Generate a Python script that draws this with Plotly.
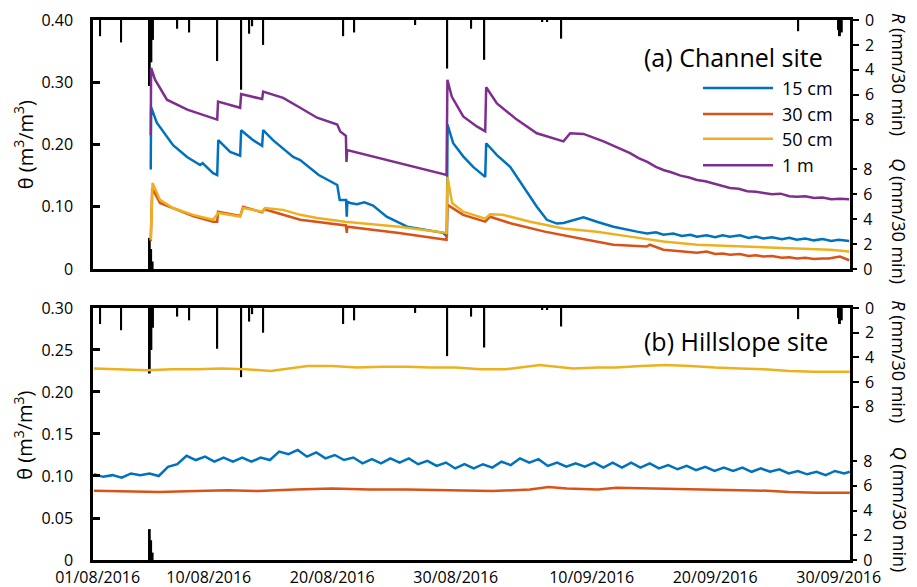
import pandas as pd
import plotly.graph_objects as go

START = pd.Timestamp("2016-08-01")


def to_dt(days):
    return [START + pd.Timedelta(days=d) for d in days]


# ---------------- data (days since 01/08/2016 00:00) ----------------
rain_days = [0.20, 1.90, 4.22, 4.35, 4.48, 6.44, 7.41, 9.68, 11.62, 12.27, 12.51, 13.40,
             19.88, 20.77, 25.71, 28.30, 30.24, 31.30, 36.00, 36.40, 37.53, 56.72,
             59.95, 60.10, 60.25]
rain_mm = [1.3, 1.8, 5.3, 3.4, 1.6, 0.7, 1.0, 3.3, 5.6, 1.1, 0.5, 2.0,
           1.3, 1.0, 0.4, 3.9, 0.7, 3.2, 0.15, 0.1, 1.5, 0.9,
           0.8, 1.3, 1.0]
q_days = [4.22, 4.33, 4.45]
q_mm = [2.5, 1.6, 0.6]

# Channel site
ch15_days = [4.30, 4.33, 4.79, 6.11, 7.24, 8.30, 8.50, 9.35, 9.68, 9.77, 10.73, 11.54, 11.62,
             12.59, 13.32, 13.40, 14.20, 15.83, 16.40, 17.90, 19.40, 19.60, 20.12, 20.17,
             20.22, 20.45, 21.00, 21.60, 22.30, 23.40, 25.06, 26.68, 27.98, 28.28, 28.33,
             28.79, 29.60, 30.40, 31.38, 31.46, 32.33, 33.40, 34.50, 35.56, 36.37, 37.18,
             37.72, 39.34, 40.42, 41.76, 43.66, 44.50, 45.20, 45.81, 46.60, 47.30, 48.00,
             48.52, 49.30, 50.00, 50.60, 51.20, 52.00, 52.70, 53.30, 53.90, 54.60, 55.40,
             56.00, 56.60, 57.30, 58.00, 58.70, 59.40, 60.00, 60.85]
ch15 = [0.160, 0.260, 0.235, 0.199, 0.180, 0.167, 0.170, 0.154, 0.151, 0.207, 0.188, 0.182, 0.223,
        0.207, 0.198, 0.223, 0.207, 0.180, 0.175, 0.151, 0.135, 0.111, 0.111, 0.084,
        0.108, 0.106, 0.104, 0.107, 0.102, 0.084, 0.068, 0.063, 0.058, 0.052, 0.232,
        0.202, 0.181, 0.164, 0.148, 0.202, 0.183, 0.164, 0.132, 0.100, 0.079, 0.073,
        0.074, 0.083, 0.076, 0.068, 0.060, 0.057, 0.059, 0.055, 0.057, 0.053, 0.055,
        0.052, 0.054, 0.051, 0.054, 0.052, 0.054, 0.050, 0.052, 0.049, 0.051, 0.048,
        0.050, 0.047, 0.049, 0.046, 0.048, 0.045, 0.047, 0.045]

ch30_days = [4.30, 4.42, 5.05, 7.73, 9.35, 9.68, 9.75, 11.54, 11.78, 13.32, 13.50, 16.40,
             20.10, 20.17, 20.22, 24.40, 27.50, 28.25, 28.33, 29.60, 31.38, 31.78, 33.50,
             36.20, 39.07, 41.76, 44.46, 44.70, 45.81, 48.52, 49.30, 50.00, 50.60, 51.20,
             52.00, 52.70, 53.30, 53.90, 54.60, 55.40, 56.00, 56.60, 57.30, 58.00, 58.70,
             59.20, 60.10, 60.85]
ch30 = [0.045, 0.130, 0.106, 0.085, 0.076, 0.076, 0.092, 0.085, 0.100, 0.091, 0.096, 0.079,
        0.070, 0.058, 0.068, 0.058, 0.049, 0.047, 0.103, 0.087, 0.076, 0.084, 0.073,
        0.060, 0.049, 0.039, 0.036, 0.039, 0.031, 0.026, 0.028, 0.024, 0.025, 0.023,
        0.024, 0.021, 0.022, 0.020, 0.021, 0.018, 0.019, 0.017, 0.018, 0.016, 0.017,
        0.017, 0.020, 0.014]

ch50_days = [4.30, 4.45, 5.05, 6.11, 7.73, 9.35, 9.77, 11.54, 11.78, 13.32, 13.56, 15.02,
             16.40, 17.77, 20.04, 24.40, 28.25, 28.33, 28.70, 29.60, 31.38, 31.78, 32.80,
             35.02, 37.72, 40.42, 43.11, 45.81, 48.52, 51.20, 53.90, 56.60, 59.30, 60.85]
ch50 = [0.047, 0.138, 0.111, 0.098, 0.087, 0.079, 0.090, 0.084, 0.098, 0.092, 0.098, 0.095,
        0.087, 0.082, 0.076, 0.068, 0.058, 0.148, 0.106, 0.092, 0.081, 0.088, 0.087,
        0.076, 0.065, 0.060, 0.052, 0.044, 0.039, 0.037, 0.035, 0.033, 0.031, 0.028]

ch1m_days = [4.30, 4.33, 4.65, 5.30, 5.61, 7.26, 8.87, 9.68, 9.75, 11.54, 11.62, 12.59, 13.32,
             13.40, 15.02, 16.40, 17.77, 19.40, 19.64, 20.10, 20.15, 20.20, 21.82, 24.40,
             27.10, 28.25, 28.32, 28.67, 29.60, 30.70, 31.38, 31.46, 32.33, 33.94, 35.56,
             37.72, 38.26, 39.34, 40.96, 43.11, 43.80, 44.50, 45.20, 45.81, 46.50, 47.20,
             47.90, 48.52, 49.20, 49.90, 50.50, 51.20, 51.90, 52.60, 53.30, 53.90, 54.60,
             55.30, 56.00, 56.60, 57.30, 58.00, 58.70, 59.40, 60.10, 60.85]
ch1m = [0.215, 0.323, 0.304, 0.283, 0.272, 0.256, 0.245, 0.240, 0.269, 0.259, 0.281, 0.277, 0.273,
        0.285, 0.275, 0.259, 0.243, 0.232, 0.221, 0.214, 0.172, 0.191, 0.183, 0.170,
        0.156, 0.151, 0.304, 0.277, 0.245, 0.229, 0.221, 0.292, 0.266, 0.240, 0.218,
        0.205, 0.218, 0.217, 0.205, 0.186, 0.178, 0.172, 0.164, 0.159, 0.155, 0.150,
        0.147, 0.143, 0.141, 0.137, 0.134, 0.130, 0.129, 0.125, 0.124, 0.122, 0.120,
        0.121, 0.117, 0.116, 0.117, 0.114, 0.115, 0.112, 0.113, 0.112]

# Hillslope site
hs15_days = [-0.30, 0.45, 1.20, 1.95, 2.70, 3.45, 4.20, 4.95, 5.70, 6.45, 7.20, 7.95, 8.70,
             9.45, 10.20, 10.95, 11.70, 12.45, 13.20, 13.95, 14.70, 15.45, 16.20, 16.95,
             17.70, 18.45, 19.20, 19.95, 20.70, 21.45, 22.20, 22.95, 23.70, 24.45, 25.20,
             25.95, 26.70, 27.45, 28.20, 28.95, 29.70, 30.45, 31.20, 31.95, 32.70, 33.45,
             34.20, 34.95, 35.70, 36.45, 37.20, 37.95, 38.70, 39.45, 40.20, 40.95, 41.70,
             42.45, 43.20, 43.95, 44.70, 45.45, 46.20, 46.95, 47.70, 48.45, 49.20, 49.95,
             50.70, 51.45, 52.20, 52.95, 53.70, 54.45, 55.20, 55.95, 56.70, 57.45, 58.20,
             58.95, 59.70, 60.45, 60.90]
hs15 = [0.102, 0.099, 0.101, 0.098, 0.103, 0.101, 0.103, 0.100, 0.111, 0.114, 0.124, 0.119, 0.123,
        0.117, 0.122, 0.117, 0.122, 0.117, 0.122, 0.119, 0.129, 0.126, 0.131, 0.123,
        0.128, 0.121, 0.125, 0.119, 0.122, 0.115, 0.120, 0.115, 0.121, 0.116, 0.121,
        0.114, 0.118, 0.112, 0.116, 0.109, 0.114, 0.109, 0.114, 0.110, 0.117, 0.113,
        0.121, 0.116, 0.120, 0.112, 0.116, 0.111, 0.115, 0.111, 0.116, 0.110, 0.116,
        0.110, 0.116, 0.110, 0.115, 0.109, 0.113, 0.108, 0.112, 0.107, 0.111, 0.106,
        0.110, 0.106, 0.110, 0.105, 0.109, 0.105, 0.108, 0.103, 0.106, 0.102, 0.105,
        0.101, 0.106, 0.103, 0.105]

hs30_days = [-0.30, 3.0, 5.0, 8.0, 10.5, 13.0, 16.0, 19.0, 22.0, 25.0, 28.0, 30.0, 32.0,
             35.0, 36.5, 38.0, 40.5, 42.0, 45.0, 48.8, 51.0, 54.2, 56.0, 58.3, 60.9]
hs30 = [0.0825, 0.082, 0.081, 0.082, 0.083, 0.082, 0.084, 0.085, 0.084, 0.084, 0.083, 0.083, 0.082,
        0.084, 0.087, 0.085, 0.084, 0.086, 0.085, 0.084, 0.083, 0.0825, 0.081, 0.080, 0.080]

hs50_days = [-0.30, 2.0, 4.0, 6.0, 8.0, 10.0, 12.0, 14.0, 15.5, 17.0, 19.0, 21.0, 23.0, 25.0,
             27.0, 29.0, 31.0, 33.0, 35.8, 38.5, 40.5, 42.0, 44.0, 46.0, 48.0, 50.0, 52.0,
             54.0, 56.0, 58.0, 60.9]
hs50 = [0.228, 0.227, 0.226, 0.227, 0.227, 0.228, 0.227, 0.225, 0.228, 0.231, 0.231, 0.229, 0.230,
        0.230, 0.229, 0.229, 0.227, 0.227, 0.232, 0.228, 0.229, 0.229, 0.231, 0.232, 0.231,
        0.229, 0.228, 0.227, 0.225, 0.224, 0.224]

depth_names = ["15 cm", "30 cm", "50 cm", "1 m"]
colors = ["#0072BD", "#D95319", "#EDB120", "#7E2F8E"]

theta_top_ticks = [0, 0.1, 0.2, 0.3, 0.4]
theta_top_text = ["0", "0.10", "0.20", "0.30", "0.40"]
theta_bot_ticks = [0, 0.05, 0.1, 0.15, 0.2, 0.25, 0.3]
theta_bot_text = ["0", "0.05", "0.10", "0.15", "0.20", "0.25", "0.30"]
rq_ticks = [0, 2, 4, 6, 8]
date_ticks = ["2016-08-01", "2016-08-10", "2016-08-20", "2016-08-30",
              "2016-09-10", "2016-09-20", "2016-09-30"]
date_text = ["01/08/2016", "10/08/2016", "20/08/2016", "30/08/2016",
             "10/09/2016", "20/09/2016", "30/09/2016"]

# ---------------- figure ----------------
FONT = "Open Sans"
BAR_W = 0.16 * 86400000
fig = go.Figure()

panels = [
    ("x", "y", "y2", "y3",
     [(ch15_days, ch15), (ch30_days, ch30), (ch50_days, ch50), (ch1m_days, ch1m)]),
    ("x2", "y4", "y5", "y6",
     [(hs15_days, hs15), (hs30_days, hs30), (hs50_days, hs50)]),
]
for xa, ya_r, ya_q, ya_t, series in panels:
    fig.add_trace(go.Bar(x=to_dt(rain_days), y=rain_mm, width=BAR_W,
                         marker=dict(color="black", line=dict(width=0)),
                         xaxis=xa, yaxis=ya_r, showlegend=False, hoverinfo="skip"))
    fig.add_trace(go.Bar(x=to_dt(q_days), y=q_mm, width=BAR_W,
                         marker=dict(color="black", line=dict(width=0)),
                         xaxis=xa, yaxis=ya_q, showlegend=False, hoverinfo="skip"))
    for i, (d, v) in enumerate(series):
        fig.add_trace(go.Scatter(x=to_dt(d), y=v, mode="lines", name=depth_names[i],
                                 line=dict(color=colors[i], width=2.5),
                                 xaxis=xa, yaxis=ya_t, showlegend=False))

x_range = ["2016-07-31 15:00", "2016-09-30 22:00"]
TOP_DOM = [0.5389, 1.0]
BOT_DOM = [0.0, 0.4667]
LW = 2.5

common_x = dict(range=x_range, showgrid=False, zeroline=False, showline=True,
                linecolor="black", linewidth=LW, mirror=True, ticks="", ticklen=0,
                tickvals=date_ticks, ticktext=date_text, automargin=False,
                tickfont=dict(family=FONT, size=16, color="black"))
right_ax = dict(side="right", showgrid=False, zeroline=False, tickvals=rq_ticks,
                ticks="outside", ticklen=6, tickwidth=2, tickcolor="black", automargin=False,
                tickfont=dict(family=FONT, size=16, color="black"), ticklabelstandoff=3)
left_ax = dict(side="left", showgrid=False, zeroline=False, showline=True,
               linecolor="black", linewidth=LW, ticks="inside", ticklen=7,
               tickwidth=2.5, tickcolor="black", automargin=False,
               tickfont=dict(family=FONT, size=16, color="black"), ticklabelstandoff=14)

# The page body has an 8 px margin, so the figure is sized 8 px smaller in each
# direction to keep the plot area where the reference has it.
fig.update_layout(
    width=909, height=579,
    margin=dict(l=85, r=67, t=12, b=27, autoexpand=False),
    paper_bgcolor="white", plot_bgcolor="white",
    barmode="overlay", showlegend=False,
    font=dict(family=FONT, color="black"),
    xaxis=dict(domain=[0, 1], anchor="y", showticklabels=False, **common_x),
    xaxis2=dict(domain=[0, 1], anchor="y4", showticklabels=True, ticklabelstandoff=1, **common_x),
    yaxis=dict(domain=TOP_DOM, anchor="x", range=[20, 0], showline=True,
               linecolor="black", linewidth=LW, **right_ax),
    yaxis2=dict(overlaying="y", anchor="x", range=[0, 20], showline=False, **right_ax),
    yaxis3=dict(overlaying="y", anchor="x", range=[0, 0.4],
                tickvals=theta_top_ticks, ticktext=theta_top_text, **left_ax),
    yaxis4=dict(domain=BOT_DOM, anchor="x2", range=[20.4, 0], showline=True,
                linecolor="black", linewidth=LW, **right_ax),
    yaxis5=dict(overlaying="y4", anchor="x2", range=[0, 20.4], showline=False, **right_ax),
    yaxis6=dict(overlaying="y4", anchor="x2", range=[0, 0.3],
                tickvals=theta_bot_ticks, ticktext=theta_bot_text, **left_ax),
)

ann = []
# left axis titles
for yc in (0.7694, 0.2315):
    ann.append(dict(text="θ (m<sup>3</sup>/m<sup>3</sup>)", textangle=-90, xref="paper", yref="paper",
                    x=-0.0915, y=yc, xanchor="center", yanchor="middle", showarrow=False,
                    font=dict(family=FONT, size=20, color="black")))
# right axis titles
for txt, yc in (("<i>R</i> (mm/30 min)", 0.899), ("<i>Q</i> (mm/30 min)", 0.628),
                ("<i>R</i> (mm/30 min)", 0.367), ("<i>Q</i> (mm/30 min)", 0.094)):
    ann.append(dict(text=txt, textangle=90, xref="paper", yref="paper",
                    x=1.0655, y=yc, xanchor="center", yanchor="middle", showarrow=False,
                    font=dict(family=FONT, size=18, color="black")))
# panel titles
ann.append(dict(text="(a) Channel site", xref="paper", yref="paper", x=0.7254, y=0.9315,
                xanchor="left", yanchor="middle", showarrow=False,
                font=dict(family=FONT, size=25, color="black")))
ann.append(dict(text="(b) Hillslope site", xref="paper", yref="paper", x=0.7254, y=0.4056,
                xanchor="left", yanchor="middle", showarrow=False,
                font=dict(family=FONT, size=25, color="black")))

# custom legend (top panel)
shapes = []
leg_y = [0.874, 0.826, 0.780, 0.731]
for name, c, ly in zip(depth_names, colors, leg_y):
    shapes.append(dict(type="line", xref="paper", yref="paper", x0=0.8058, x1=0.8983,
                       y0=ly, y1=ly, line=dict(color=c, width=2.6)))
    ann.append(dict(text=name, xref="paper", yref="paper", x=0.9075, y=ly,
                    xanchor="left", yanchor="middle", showarrow=False,
                    font=dict(family=FONT, size=18, color="black")))

fig.update_layout(annotations=ann, shapes=shapes)
fig.write_html("out.html")
